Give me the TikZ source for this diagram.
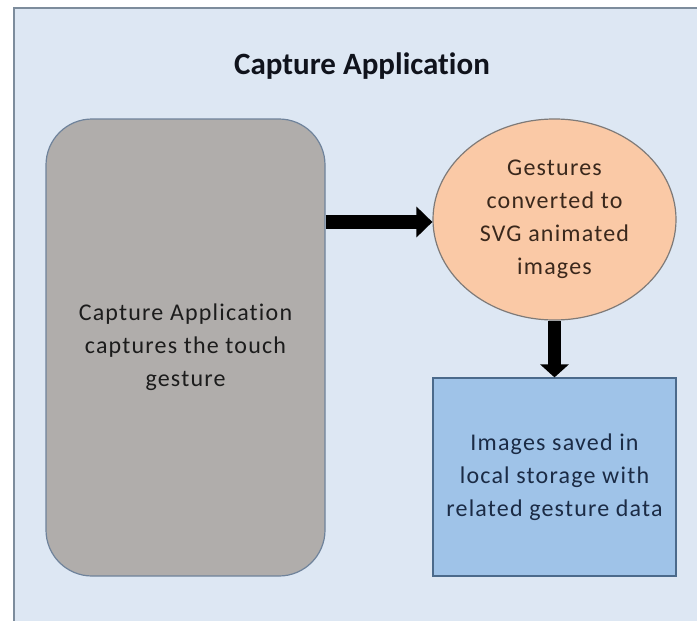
\documentclass[tikz,border=0pt]{standalone}
\usepackage{fontspec}
\setmainfont[Ligatures=NoCommon]{Carlito}
\newfontfamily\bodyfont[LetterSpace=5, Ligatures=NoCommon]{Carlito}
\usetikzlibrary{shapes.geometric,arrows.meta}

\definecolor{framefill}{HTML}{DDE7F3}
\definecolor{framedraw}{HTML}{7D8C9C}
\definecolor{capfill}{HTML}{B0ADAB}
\definecolor{capdraw}{HTML}{6F839B}
\definecolor{convfill}{HTML}{FAC9A6}
\definecolor{convdraw}{HTML}{7E7A78}
\definecolor{storefill}{HTML}{9FC3E8}
\definecolor{storedraw}{HTML}{4B6A8B}
\definecolor{titletext}{HTML}{10131C}
\definecolor{captext}{HTML}{1C1C1C}
\definecolor{convtext}{HTML}{3A281C}
\definecolor{storetext}{HTML}{1B2B45}

\tikzset{
  bodytext/.style={font=\bodyfont\fontsize{24}{33}\selectfont, align=center, inner sep=0pt},
  capbox/.style={bodytext, draw=capdraw, line width=1.2pt, fill=capfill,
    rounded corners=46pt, text=captext},
  convbubble/.style={bodytext, ellipse, draw=convdraw, line width=1.2pt, fill=convfill,
    text=convtext},
  storebox/.style={bodytext, rectangle, draw=storedraw, line width=1.2pt, fill=storefill,
    text=storetext},
  flow/.style={draw=black, line width=14pt},
}

\begin{document}
\begin{tikzpicture}[x=1pt, y=-1pt]
  \useasboundingbox (0,0) rectangle (697,621);
  \clip (0,0) rectangle (697,621);
  \fill[white] (0,0) rectangle (697,621);

  % outer frame, running off the right and bottom edges
  \draw[framedraw, line width=2pt, fill=framefill] (14,8) rectangle (710,640);

  \node[anchor=base, text=titletext, font=\bfseries\fontsize{31}{37}\selectfont, inner sep=0pt]
    (title) at (362,74) {Capture Application};

  \node[capbox, minimum width=279pt, minimum height=457pt] (cap) at (185.5,347.5)
    {Capture Application\\captures the touch\\gesture};

  \node[convbubble, minimum width=243pt, minimum height=201pt] (conv) at (554.5,219.5)
    {Gestures\\converted to\\SVG animated\\images};

  \node[storebox, minimum width=243pt, minimum height=198pt] (store) at (554.5,477)
    {Images saved in\\local storage with\\related gesture  data};

  % connectors
  \draw[flow, -{Triangle[width=30pt, length=16pt]}]
    (cap.east |- 0,222) -- (conv.west |- 0,222);
  \draw[flow, line width=13pt, -{Triangle[width=28pt, length=13pt]}]
    (conv.south) -- (store.north);
\end{tikzpicture}
\end{document}
